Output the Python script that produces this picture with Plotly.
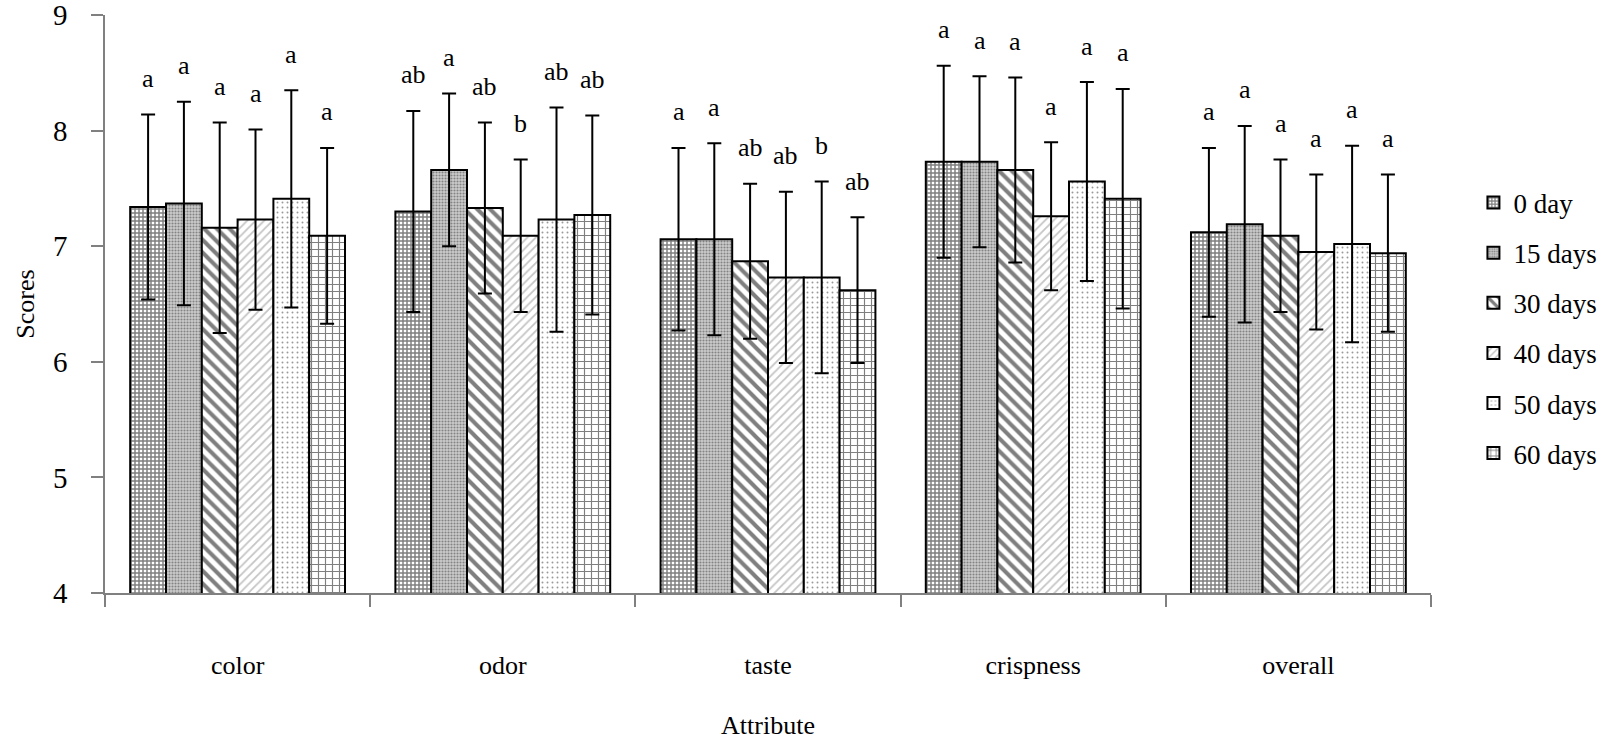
import plotly.graph_objects as go

attributes = ["color", "odor", "taste", "crispness", "overall"]
series_names = ["0 day", "15 days", "30 days", "40 days", "50 days", "60 days"]

# mean scores per series (order of attributes)
mean_0 = [7.34, 7.30, 7.06, 7.73, 7.12]
mean_15 = [7.37, 7.66, 7.06, 7.73, 7.19]
mean_30 = [7.16, 7.33, 6.87, 7.66, 7.09]
mean_40 = [7.23, 7.09, 6.73, 7.26, 6.95]
mean_50 = [7.41, 7.23, 6.73, 7.56, 7.02]
mean_60 = [7.09, 7.27, 6.62, 7.41, 6.94]

# standard deviations
sd_0 = [0.80, 0.87, 0.79, 0.83, 0.73]
sd_15 = [0.88, 0.66, 0.83, 0.74, 0.85]
sd_30 = [0.91, 0.74, 0.67, 0.80, 0.66]
sd_40 = [0.78, 0.66, 0.74, 0.64, 0.67]
sd_50 = [0.94, 0.97, 0.83, 0.86, 0.85]
sd_60 = [0.76, 0.86, 0.63, 0.95, 0.68]

# significance letters
let_0 = ["a", "ab", "a", "a", "a"]
let_15 = ["a", "a", "a", "a", "a"]
let_30 = ["a", "ab", "ab", "a", "a"]
let_40 = ["a", "b", "ab", "a", "a"]
let_50 = ["a", "ab", "b", "a", "a"]
let_60 = ["a", "ab", "ab", "a", "a"]

y_ticks = [4, 5, 6, 7, 8, 9]

means = [mean_0, mean_15, mean_30, mean_40, mean_50, mean_60]
sds = [sd_0, sd_15, sd_30, sd_40, sd_50, sd_60]
letters = [let_0, let_15, let_30, let_40, let_50, let_60]

patterns = [
    dict(shape="+", size=4, solidity=0.6, fgcolor="black", bgcolor="white"),
    dict(shape=".", size=3, solidity=0.4, fgcolor="#3a3a3a", bgcolor="#cccccc"),
    dict(shape="\\", size=9, solidity=0.45, fgcolor="black", bgcolor="white"),
    dict(shape="/", size=6, solidity=0.3, fgcolor="#8a8a8a", bgcolor="white"),
    dict(shape=".", size=5, solidity=0.12, fgcolor="#333333", bgcolor="white"),
    dict(shape="+", size=7, solidity=0.3, fgcolor="black", bgcolor="white"),
]

FONT = "Liberation Serif"
bargap = 0.19

fig = go.Figure()
for j, name in enumerate(series_names):
    fig.add_trace(go.Bar(
        x=attributes, y=means[j], name=name, legendgroup=name,
        base=0,
        marker=dict(color="white", line=dict(color="black", width=2), pattern=patterns[j]),
        error_y=dict(type="data", array=sds[j], symmetric=True, color="black", thickness=2, width=7),
    ))

n = len(series_names)
w = (1 - bargap) / n
for j in range(n):
    for i in range(len(attributes)):
        fig.add_annotation(
            x=i + (j - (n - 1) / 2) * w, y=means[j][i] + sds[j][i],
            xref="x", yref="y", text=letters[j][i], showarrow=False,
            yanchor="middle", yshift=36, font=dict(family=FONT, size=26, color="black"),
        )

fig.update_layout(
    width=1612, height=740,
    margin=dict(l=105, r=181, t=15, b=147, autoexpand=False),
    paper_bgcolor="white", plot_bgcolor="white",
    barmode="group", bargap=bargap, bargroupgap=0,
    font=dict(family=FONT, size=26, color="black"),
    showlegend=True,
    legend=dict(x=1.032, y=0.717, xanchor="left", yanchor="top", tracegroupgap=12,
                itemwidth=30,
                font=dict(family=FONT, size=27, color="black"), bgcolor="rgba(0,0,0,0)"),
    xaxis=dict(
        title=dict(text="Attribute", standoff=48, font=dict(family=FONT, size=26)),
        tickfont=dict(family=FONT, size=26),
        showline=True, linecolor="#808080", linewidth=1.5,
        ticks="outside", ticklen=12, tickcolor="#808080", tickwidth=1.5,
        tickson="boundaries", ticklabelstandoff=48, automargin=False,
        range=[-0.5, len(attributes) - 0.5], showgrid=False,
    ),
    yaxis=dict(
        title=dict(text="Scores", standoff=11, font=dict(family=FONT, size=26)),
        tickfont=dict(family=FONT, size=29),
        range=[4, 9], tickvals=y_ticks, automargin=False,
        ticklabeloverflow="allow",
        showline=True, linecolor="#808080", linewidth=1.5,
        ticks="outside", ticklen=12, tickcolor="#808080", tickwidth=1.5,
        ticklabelstandoff=18, showgrid=False, zeroline=False,
    ),
)

fig.write_html("out.html", config={"displayModeBar": False},
               post_script="document.body.style.margin='0';")
